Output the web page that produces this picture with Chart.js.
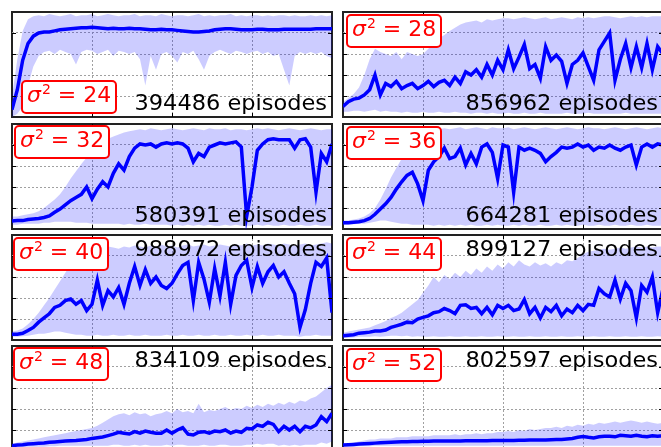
<!DOCTYPE html>
<html>
<head>
<meta charset="utf-8">
<script src="https://cdn.jsdelivr.net/npm/chart.js@4.4.1/dist/chart.umd.min.js"></script>
<style>
html, body { margin:0; padding:0; width:661px; height:447px; overflow:hidden; background:#fff; font-family:"DejaVu Sans", sans-serif; }
.panel { position:absolute; width:320px; height:105px; outline:2px solid #222; outline-offset:-1px; }
.panel canvas { position:absolute; left:0; top:0; }
.sigma { position:absolute; width:96px; height:34px; box-sizing:border-box; border:2px solid #f00; border-radius:5px; background:#fff; color:#f00; font-size:22px; line-height:26px; padding-left:4px; white-space:nowrap; }
.sigma .sup { font-size:14px; position:relative; top:-8px; margin-left:1px; }
.eps { position:absolute; width:260px; text-align:right; font-size:21px; line-height:22px; white-space:nowrap; color:#000; transform:scaleX(1.07); transform-origin:right; }
</style>
</head>
<body>
<script>
var sigma2 = [24, 28, 32, 36, 40, 44, 48, 52];
var episodios = [394486, 856962, 580391, 664281, 988972, 899127, 834109, 802597];

var m24 = [0.07,0.26,0.54,0.70,0.77,0.80,0.81,0.81,0.82,0.83,0.835,0.84,0.845,0.85,0.85,0.855,0.85,0.845,0.84,0.845,0.84,0.84,0.845,0.84,0.84,0.835,0.83,0.83,0.835,0.83,0.83,0.825,0.82,0.815,0.81,0.81,0.815,0.82,0.83,0.835,0.84,0.84,0.835,0.83,0.83,0.83,0.835,0.835,0.83,0.83,0.83,0.835,0.835,0.835,0.835,0.835,0.835,0.84,0.84,0.84,0.84];
var u24 = [0.20,0.55,0.82,0.93,0.96,0.97,0.96,0.98,0.97,0.96,0.97,0.98,0.96,0.97,0.97,0.98,0.96,0.97,0.98,0.97,0.96,0.97,0.97,0.98,0.96,0.97,0.97,0.96,0.98,0.97,0.96,0.97,0.97,0.96,0.97,0.98,0.96,0.97,0.96,0.97,0.97,0.98,0.96,0.97,0.96,0.97,0.97,0.96,0.97,0.96,0.97,0.97,0.96,0.97,0.96,0.96,0.97,0.96,0.97,0.96,0.97];
var l24 = [0.00,0.03,0.10,0.30,0.48,0.58,0.62,0.63,0.60,0.64,0.62,0.60,0.50,0.62,0.64,0.63,0.60,0.62,0.64,0.58,0.63,0.62,0.60,0.62,0.55,0.30,0.58,0.45,0.60,0.62,0.58,0.52,0.62,0.60,0.63,0.55,0.45,0.58,0.62,0.64,0.62,0.60,0.63,0.62,0.60,0.62,0.63,0.60,0.62,0.58,0.60,0.45,0.30,0.58,0.62,0.60,0.62,0.60,0.62,0.58,0.56];

var m28 = [0.10,0.145,0.17,0.18,0.21,0.26,0.40,0.21,0.32,0.29,0.34,0.27,0.30,0.32,0.27,0.30,0.34,0.29,0.33,0.35,0.30,0.38,0.32,0.43,0.40,0.45,0.38,0.50,0.40,0.54,0.45,0.64,0.46,0.57,0.69,0.46,0.50,0.37,0.67,0.54,0.59,0.53,0.32,0.50,0.54,0.61,0.48,0.35,0.64,0.72,0.80,0.35,0.55,0.70,0.47,0.67,0.47,0.70,0.45,0.67,0.60];
var u28 = [0.14,0.18,0.22,0.28,0.40,0.55,0.65,0.62,0.60,0.58,0.62,0.55,0.62,0.60,0.58,0.60,0.65,0.70,0.75,0.78,0.82,0.85,0.88,0.90,0.91,0.92,0.90,0.93,0.92,0.93,0.94,0.94,0.93,0.94,0.95,0.94,0.93,0.94,0.95,0.93,0.94,0.95,0.94,0.93,0.95,0.94,0.95,0.94,0.95,0.96,0.96,0.95,0.94,0.95,0.96,0.95,0.96,0.95,0.96,0.96,0.96];
var l28 = [0.05,0.05,0.06,0.06,0.05,0.06,0.07,0.05,0.06,0.05,0.05,0.04,0.05,0.04,0.04,0.05,0.04,0.04,0.05,0.04,0.04,0.05,0.04,0.04,0.03,0.04,0.04,0.03,0.04,0.03,0.03,0.04,0.03,0.03,0.04,0.03,0.03,0.04,0.03,0.03,0.03,0.03,0.04,0.03,0.03,0.03,0.04,0.03,0.03,0.03,0.03,0.03,0.03,0.04,0.03,0.03,0.03,0.03,0.03,0.03,0.03];

var m32 = [0.077,0.08,0.08,0.09,0.095,0.10,0.11,0.125,0.16,0.19,0.23,0.27,0.30,0.33,0.40,0.29,0.38,0.45,0.40,0.53,0.62,0.56,0.69,0.77,0.81,0.80,0.81,0.78,0.81,0.82,0.81,0.82,0.81,0.77,0.64,0.72,0.69,0.78,0.80,0.82,0.81,0.82,0.83,0.78,0.12,0.40,0.75,0.81,0.85,0.86,0.85,0.85,0.85,0.77,0.85,0.86,0.78,0.35,0.72,0.64,0.81];
var u32 = [0.12,0.12,0.13,0.14,0.15,0.17,0.20,0.24,0.28,0.33,0.40,0.48,0.55,0.62,0.68,0.72,0.78,0.84,0.86,0.88,0.90,0.92,0.93,0.94,0.95,0.94,0.96,0.95,0.94,0.95,0.96,0.95,0.94,0.95,0.96,0.95,0.94,0.96,0.95,0.95,0.96,0.94,0.95,0.95,0.94,0.95,0.96,0.95,0.96,0.95,0.94,0.95,0.96,0.95,0.94,0.95,0.96,0.95,0.94,0.95,0.95];
var l32 = [0.04,0.04,0.05,0.05,0.05,0.05,0.06,0.06,0.07,0.07,0.07,0.07,0.06,0.06,0.06,0.05,0.05,0.05,0.05,0.05,0.05,0.04,0.05,0.04,0.04,0.05,0.04,0.04,0.04,0.04,0.03,0.04,0.03,0.04,0.03,0.04,0.03,0.04,0.03,0.03,0.04,0.03,0.04,0.03,0.03,0.03,0.04,0.03,0.04,0.03,0.03,0.04,0.03,0.03,0.04,0.03,0.03,0.04,0.03,0.03,0.03];

var m36 = [0.06,0.06,0.065,0.07,0.08,0.10,0.14,0.19,0.24,0.30,0.38,0.45,0.51,0.54,0.43,0.27,0.56,0.64,0.69,0.77,0.67,0.69,0.77,0.61,0.72,0.62,0.78,0.81,0.73,0.48,0.80,0.78,0.35,0.78,0.75,0.77,0.75,0.72,0.64,0.69,0.73,0.78,0.77,0.78,0.81,0.78,0.80,0.75,0.78,0.77,0.80,0.77,0.75,0.78,0.80,0.61,0.78,0.81,0.78,0.81,0.80];
var u36 = [0.08,0.08,0.09,0.10,0.12,0.15,0.20,0.28,0.38,0.49,0.58,0.67,0.75,0.82,0.87,0.91,0.93,0.94,0.95,0.96,0.95,0.96,0.97,0.95,0.96,0.97,0.96,0.95,0.97,0.96,0.96,0.97,0.95,0.96,0.97,0.96,0.95,0.96,0.97,0.96,0.95,0.96,0.97,0.96,0.95,0.96,0.97,0.96,0.96,0.95,0.96,0.97,0.96,0.95,0.96,0.97,0.96,0.95,0.96,0.97,0.96];
var l36 = [0.04,0.04,0.045,0.05,0.05,0.06,0.07,0.08,0.08,0.07,0.06,0.05,0.05,0.04,0.04,0.04,0.04,0.03,0.04,0.03,0.04,0.03,0.04,0.03,0.04,0.03,0.03,0.04,0.03,0.04,0.03,0.03,0.04,0.03,0.04,0.03,0.03,0.04,0.03,0.03,0.04,0.03,0.04,0.03,0.03,0.04,0.03,0.03,0.04,0.03,0.03,0.04,0.03,0.03,0.04,0.03,0.03,0.04,0.03,0.03,0.03];

var m40 = [0.055,0.055,0.064,0.09,0.12,0.17,0.21,0.25,0.31,0.33,0.375,0.39,0.34,0.375,0.28,0.34,0.57,0.33,0.47,0.41,0.50,0.34,0.54,0.70,0.52,0.67,0.54,0.60,0.52,0.49,0.54,0.63,0.71,0.74,0.375,0.74,0.58,0.36,0.68,0.42,0.74,0.34,0.615,0.71,0.76,0.50,0.70,0.54,0.65,0.71,0.60,0.65,0.54,0.44,0.12,0.29,0.54,0.74,0.70,0.78,0.26];
var u40 = [0.08,0.09,0.11,0.15,0.20,0.26,0.33,0.40,0.48,0.56,0.64,0.72,0.80,0.85,0.87,0.88,0.87,0.88,0.89,0.88,0.87,0.89,0.88,0.90,0.89,0.88,0.90,0.89,0.91,0.89,0.90,0.88,0.90,0.91,0.89,0.90,0.91,0.89,0.90,0.91,0.90,0.89,0.91,0.90,0.92,0.90,0.91,0.90,0.92,0.91,0.90,0.92,0.91,0.90,0.91,0.92,0.90,0.91,0.92,0.93,0.92];
var l40 = [0.03,0.03,0.035,0.04,0.05,0.06,0.06,0.07,0.08,0.08,0.07,0.06,0.05,0.05,0.04,0.04,0.05,0.04,0.04,0.05,0.04,0.04,0.05,0.04,0.04,0.05,0.04,0.04,0.04,0.05,0.04,0.04,0.05,0.04,0.04,0.05,0.04,0.04,0.05,0.04,0.04,0.05,0.04,0.04,0.05,0.04,0.04,0.05,0.04,0.04,0.05,0.04,0.04,0.04,0.03,0.04,0.04,0.05,0.04,0.04,0.04];

var m44 = [0.04,0.045,0.05,0.065,0.07,0.075,0.085,0.085,0.095,0.12,0.135,0.15,0.17,0.165,0.20,0.215,0.23,0.26,0.27,0.30,0.28,0.25,0.33,0.335,0.30,0.31,0.25,0.31,0.24,0.33,0.30,0.33,0.28,0.295,0.385,0.25,0.31,0.21,0.31,0.27,0.33,0.23,0.295,0.26,0.33,0.28,0.34,0.33,0.49,0.44,0.41,0.57,0.39,0.54,0.47,0.21,0.52,0.455,0.60,0.26,0.49];
var u44 = [0.07,0.08,0.09,0.10,0.11,0.12,0.14,0.16,0.18,0.21,0.23,0.26,0.30,0.34,0.38,0.45,0.52,0.60,0.55,0.62,0.58,0.64,0.60,0.66,0.62,0.68,0.64,0.70,0.66,0.72,0.68,0.74,0.70,0.76,0.72,0.70,0.74,0.71,0.73,0.70,0.74,0.72,0.76,0.75,0.78,0.82,0.84,0.85,0.86,0.87,0.86,0.87,0.88,0.87,0.88,0.89,0.88,0.89,0.88,0.89,0.89];
var l44 = [0.02,0.02,0.025,0.03,0.03,0.03,0.035,0.03,0.035,0.04,0.04,0.035,0.04,0.03,0.035,0.03,0.03,0.035,0.03,0.03,0.035,0.03,0.03,0.035,0.03,0.03,0.035,0.03,0.03,0.035,0.03,0.03,0.035,0.03,0.03,0.035,0.03,0.03,0.035,0.03,0.03,0.035,0.03,0.03,0.035,0.03,0.03,0.035,0.03,0.03,0.035,0.03,0.03,0.035,0.03,0.03,0.035,0.03,0.03,0.035,0.03];

var m48 = [0.05,0.057,0.06,0.067,0.07,0.073,0.076,0.083,0.086,0.09,0.095,0.098,0.10,0.105,0.11,0.12,0.127,0.133,0.146,0.16,0.178,0.17,0.162,0.184,0.17,0.19,0.178,0.17,0.17,0.20,0.17,0.20,0.222,0.16,0.152,0.178,0.184,0.17,0.19,0.184,0.20,0.17,0.19,0.178,0.216,0.21,0.248,0.235,0.273,0.254,0.184,0.235,0.20,0.235,0.184,0.235,0.22,0.248,0.327,0.28,0.36];
var u48 = [0.07,0.08,0.09,0.10,0.11,0.12,0.13,0.14,0.15,0.16,0.17,0.18,0.19,0.20,0.21,0.22,0.24,0.27,0.30,0.33,0.35,0.36,0.34,0.37,0.35,0.36,0.33,0.35,0.36,0.38,0.36,0.40,0.37,0.38,0.36,0.45,0.37,0.39,0.38,0.40,0.42,0.39,0.41,0.40,0.43,0.41,0.44,0.42,0.45,0.43,0.46,0.44,0.47,0.45,0.48,0.47,0.50,0.52,0.56,0.60,0.63];
var l48 = [0.03,0.035,0.035,0.04,0.04,0.04,0.04,0.045,0.045,0.05,0.05,0.05,0.05,0.05,0.05,0.05,0.05,0.05,0.05,0.06,0.06,0.05,0.05,0.06,0.05,0.06,0.05,0.05,0.05,0.06,0.05,0.06,0.06,0.05,0.05,0.05,0.06,0.05,0.05,0.06,0.06,0.05,0.05,0.05,0.06,0.06,0.07,0.06,0.07,0.07,0.05,0.06,0.05,0.06,0.05,0.06,0.06,0.06,0.08,0.07,0.09];

var m52 = [0.057,0.06,0.063,0.066,0.07,0.072,0.075,0.078,0.08,0.083,0.085,0.087,0.088,0.09,0.09,0.092,0.093,0.095,0.095,0.095,0.095,0.096,0.096,0.097,0.097,0.097,0.098,0.098,0.10,0.10,0.10,0.10,0.10,0.102,0.102,0.104,0.104,0.105,0.105,0.108,0.11,0.11,0.115,0.12,0.13,0.137,0.13,0.125,0.135,0.14,0.14,0.135,0.15,0.145,0.14,0.15,0.14,0.135,0.145,0.14,0.145];
var u52 = [0.06,0.07,0.08,0.09,0.10,0.11,0.11,0.12,0.12,0.12,0.13,0.13,0.13,0.14,0.14,0.14,0.14,0.15,0.15,0.15,0.15,0.16,0.15,0.16,0.16,0.17,0.16,0.17,0.17,0.18,0.18,0.19,0.18,0.20,0.19,0.21,0.20,0.21,0.22,0.22,0.23,0.22,0.24,0.23,0.25,0.24,0.26,0.25,0.27,0.26,0.27,0.28,0.27,0.28,0.29,0.28,0.27,0.28,0.27,0.26,0.27];
var l52 = [0.04,0.04,0.04,0.045,0.045,0.045,0.05,0.05,0.05,0.05,0.05,0.05,0.05,0.05,0.05,0.05,0.05,0.05,0.05,0.05,0.05,0.05,0.05,0.05,0.05,0.05,0.05,0.05,0.05,0.05,0.05,0.05,0.05,0.05,0.05,0.05,0.05,0.05,0.05,0.05,0.05,0.05,0.05,0.05,0.05,0.05,0.05,0.05,0.05,0.05,0.05,0.05,0.05,0.05,0.05,0.05,0.05,0.05,0.05,0.05,0.05];

var medias = [m24, m28, m32, m36, m40, m44, m48, m52];
var altos = [u24, u28, u32, u36, u40, u44, u48, u52];
var bajos = [l24, l28, l32, l36, l40, l44, l48, l52];

// posiciones de cada cuadro (px)
var celdas = [
	{left: 12, top: 12, caja: [21, 80], texto: 'abajo'},
	{left: 343, top: 12, caja: [346, 14], texto: 'abajo'},
	{left: 12, top: 124, caja: [14, 125], texto: 'abajo'},
	{left: 343, top: 124, caja: [346, 126], texto: 'abajo'},
	{left: 12, top: 235, caja: [13, 237], texto: 'arriba'},
	{left: 343, top: 235, caja: [346, 237], texto: 'arriba'},
	{left: 12, top: 346, caja: [13, 347], texto: 'arriba'},
	{left: 343, top: 346, caja: [346, 348], texto: 'arriba'}
];

var marcas = {
	id: 'marcas',
	afterDraw: function (chart) {
		var ctx = chart.ctx, a = chart.chartArea;
		var xs = chart.scales.x, ys = chart.scales.y;
		ctx.save();
		ctx.strokeStyle = '#000';
		ctx.lineWidth = 1;
		ctx.beginPath();
		xs.ticks.slice(1, -1).forEach(function (t) {
			var px = Math.round(xs.getPixelForValue(t.value)) + 0.5;
			ctx.moveTo(px, a.top); ctx.lineTo(px, a.top + 4);
			ctx.moveTo(px, a.bottom); ctx.lineTo(px, a.bottom - 4);
		});
		ys.ticks.slice(1, -1).forEach(function (t) {
			var py = Math.round(ys.getPixelForValue(t.value)) + 0.5;
			ctx.moveTo(a.left, py); ctx.lineTo(a.left + 4, py);
			ctx.moveTo(a.right, py); ctx.lineTo(a.right - 4, py);
		});
		ctx.stroke();
		ctx.restore();
	}
};

function colorRejilla(c) {
	var n = c.scale.ticks.length;
	return (c.index === 0 || c.index === n - 1) ? 'rgba(0,0,0,0)' : '#a0a0a0';
}

function hacerPanel(i) {
	var celda = celdas[i];
	var div = document.createElement('div');
	div.className = 'panel';
	div.style.left = celda.left + 'px';
	div.style.top = celda.top + 'px';
	var canvas = document.createElement('canvas');
	canvas.width = 320;
	canvas.height = 105;
	div.appendChild(canvas);
	document.body.appendChild(div);

	var etiquetas = medias[i].map(function (v, j) { return j; });

	new Chart(canvas.getContext('2d'), {
		type: 'line',
		data: {
			labels: etiquetas,
			datasets: [{
				data: medias[i],
				borderColor: '#0000ff',
				borderWidth: 3.5,
				pointRadius: 0,
				fill: false,
				order: 0
			}, {
				data: altos[i],
				borderWidth: 0,
				pointRadius: 0,
				backgroundColor: 'rgba(0,0,255,0.2)',
				fill: '+1',
				order: 1
			}, {
				data: bajos[i],
				borderWidth: 0,
				pointRadius: 0,
				fill: false,
				order: 2
			}]
		},
		options: {
			responsive: false,
			animation: false,
			events: [],
			layout: {padding: 0},
			plugins: {legend: {display: false}, tooltip: {enabled: false}},
			scales: {
				x: {
					type: 'linear', min: 0, max: 60,
					ticks: {display: false, stepSize: 15},
					grid: {color: colorRejilla, drawTicks: false, lineWidth: 1},
					border: {display: false, dash: [2, 2]}
				},
				y: {
					min: 0, max: 1,
					ticks: {display: false, stepSize: 0.2},
					grid: {color: colorRejilla, drawTicks: false, lineWidth: 1},
					border: {display: false, dash: [2, 2]}
				}
			}
		},
		plugins: [marcas]
	});

	var caja = document.createElement('div');
	caja.className = 'sigma';
	caja.style.left = celda.caja[0] + 'px';
	caja.style.top = celda.caja[1] + 'px';
	caja.innerHTML = '<i>σ</i><span class="sup">2</span> = ' + sigma2[i];
	document.body.appendChild(caja);

	var texto = document.createElement('div');
	texto.className = 'eps';
	texto.style.left = (celda.left + 315 - 260) + 'px';
	texto.style.top = (celda.texto === 'abajo' ? celda.top + 80 : celda.top + 3) + 'px';
	texto.textContent = episodios[i] + ' episodes';
	document.body.appendChild(texto);
}

for (var i = 0; i < celdas.length; i++) {
	hacerPanel(i);
}
</script>
</body>
</html>
